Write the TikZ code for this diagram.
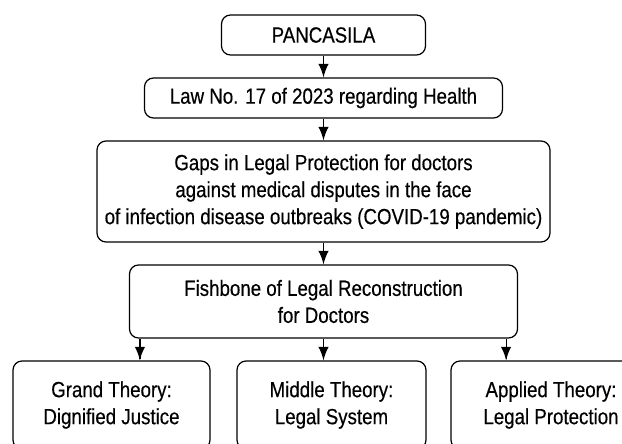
\documentclass[tikz,border=0pt]{standalone}
\usepackage{fontspec}
\setmainfont{Liberation Sans}[FakeStretch=0.85,FakeBold=0.4]
\usetikzlibrary{arrows}
\usetikzlibrary{calc,positioning}
\usetikzlibrary{decorations.markings}

\tikzset{
  box/.style={draw, line width=1.2pt, rounded corners=9pt, align=center,
    inner sep=0pt, font=\fontsize{22}{27}\selectfont},
  flow/.style={line width=1.2pt,
    decoration={markings,mark=at position 1 with {\arrow[scale=2.1]{latex}}},
    postaction={decorate}, shorten >=1pt}
}

\begin{document}
\begin{tikzpicture}[x=1pt,y=1pt]
    \useasboundingbox (0,0) rectangle (622,-444);

    % main column
    \node[box, minimum width=204pt, minimum height=40pt] (pancasila) at (323.5,-35) {PANCASILA};
    \node[box, minimum width=358pt, minimum height=40pt] (law) at (323.5,-98) {Law No. 17 of 2023 regarding Health};
    \node[box, minimum width=453pt, minimum height=101pt] (gaps) at (323.5,-191.5)
      {Gaps in Legal Protection for doctors\\against medical disputes in the face\\of infection disease outbreaks (COVID-19 pandemic)};
    \node[box, minimum width=388pt, minimum height=73pt] (fish) at (323.5,-301.5)
      {Fishbone of Legal Reconstruction\\for Doctors};

    % theories
    \node[box, minimum width=197pt, minimum height=88pt] (grand) at (111.5,-405) {Grand Theory:\\Dignified Justice};
    \node[box, minimum width=189pt, minimum height=88pt] (middle) at (331.5,-405) {Middle Theory:\\Legal System};
    \node[box, minimum width=200pt, minimum height=88pt] (applied) at (551,-405) {Applied Theory:\\Legal Protection};

    \coordinate (fl) at ([xshift=11pt]fish.south west);
    \coordinate (fr) at ([xshift=-12pt]fish.south east);

    \draw[flow] (pancasila.south) -- (law.north);
    \draw[flow] (law.south) -- (gaps.north);
    \draw[flow] (gaps.south) -- (fish.north);
    \draw[flow] (fl) -- (fl |- grand.north);
    \draw[flow] (fish.south) -- (fish.south |- middle.north);
    \draw[flow] (fr) -- (fr |- applied.north);

\end{tikzpicture}
\end{document}
